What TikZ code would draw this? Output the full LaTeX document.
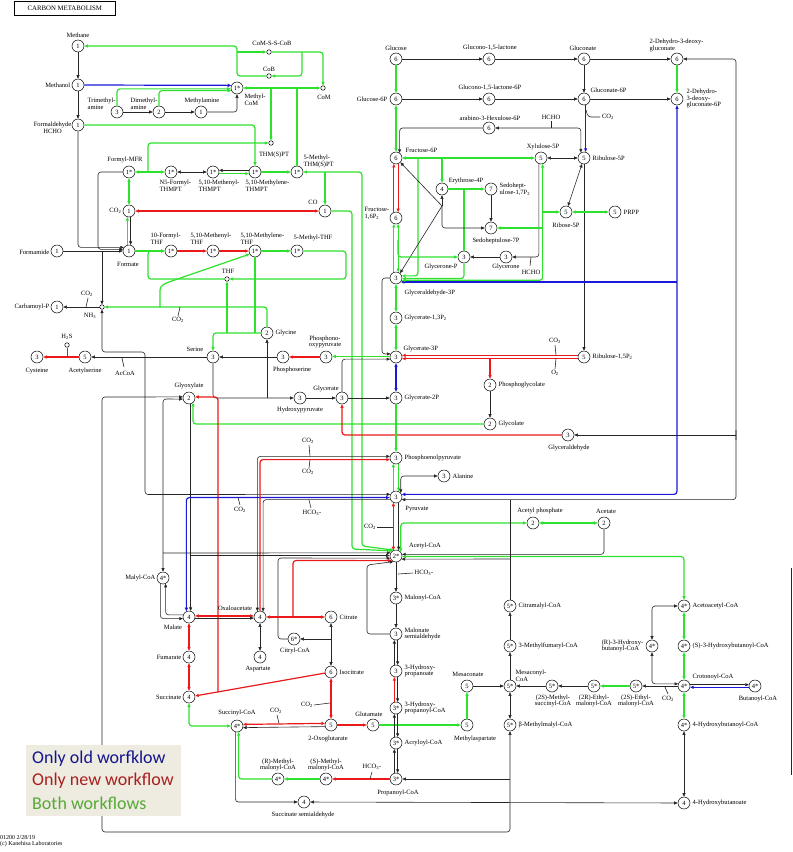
\documentclass[tikz,border=0pt]{standalone}
\usepackage{fontspec}
\setmainfont{Liberation Serif}
\newfontfamily\legfont{Carlito}
\usetikzlibrary{arrows.meta}
\newcommand{\mysub}[1]{\textsubscript{#1}}
\definecolor{kgreen}{RGB}{45,225,45}
\definecolor{kred}{RGB}{235,25,25}
\definecolor{kblue}{RGB}{25,25,215}
\definecolor{legbg}{RGB}{238,236,225}
\definecolor{legb}{RGB}{20,20,140}
\definecolor{legr}{RGB}{170,30,30}
\definecolor{legg}{RGB}{86,168,54}
\begin{document}
\begin{tikzpicture}[x=1pt,y=-1pt,
 >={Triangle[length=3.6pt,width=3pt]},
 cpd/.style={circle,draw,line width=0.5pt,fill=white,minimum size=12pt,inner sep=0pt,font=\fontsize{6.5}{7}\selectfont},
 sc/.style={circle,draw,line width=0.5pt,fill=white,minimum size=4.5pt,inner sep=0pt},
 lab/.style={font=\fontsize{6.5}{6.8}\selectfont,inner sep=0.5pt,align=center},
 kl/.style={draw=black!85,line width=0.6pt},
 gl/.style={draw=kgreen,line width=1.2pt},
 rl/.style={draw=kred,line width=1.2pt},
 bl/.style={draw=kblue,line width=1.2pt},
 rnd/.style={rounded corners=3pt},
 legtext/.style={anchor=west,inner sep=0pt,font=\legfont\fontsize{18}{20}\selectfont}]
\fill[white] (0,0) rectangle (793,852);
\useasboundingbox (0,0) rectangle (793,852);

% ---------------- compounds
\node[cpd] (Methane) at (78,46) {1};
\node[cpd] (Methanol) at (78,85) {1};
\node[cpd] (MeCoM) at (237,88) {1*};
\node[cpd] (TMA) at (117,112) {3};
\node[cpd] (DMA) at (159,112) {2};
\node[cpd] (MA) at (201,112) {1};
\node[cpd] (HCHO) at (78,125) {1};
\node[cpd] (FMFR) at (129,172) {1*};
\node[cpd] (N5F) at (171,172) {1*};
\node[cpd] (MTHMPT) at (213,172) {1*};
\node[cpd] (MeneTHMPT) at (255,172) {1*};
\node[cpd] (MeTHMSPT) at (297,172) {1*};
\node[cpd] (CO2n) at (129,211) {1};
\node[cpd] (CO) at (325,211) {1};
\node[cpd] (Formate) at (129,251) {1};
\node[cpd] (Formamide) at (57,251) {1};
\node[cpd] (FTHF) at (171,251) {1*};
\node[cpd] (MTHF) at (213,251) {1*};
\node[cpd] (MeneTHF) at (255,251) {1*};
\node[cpd] (MeTHF) at (297,251) {1*};
\node[cpd] (CarbP) at (57,307) {1};
\node[cpd] (Glycine) at (267,333) {2};
\node[cpd] (Serine) at (213,357) {3};
\node[cpd] (Acser) at (85,357) {5};
\node[cpd] (Cys) at (37,357) {3};
\node[cpd] (Phser) at (283,357) {3};
\node[cpd] (Phoxp) at (326,357) {3};
\node[cpd] (Glyoxylate) at (189,398) {2};
\node[cpd] (Hpyr) at (300,398) {3};
\node[cpd] (Glycerate) at (342,398) {3};
\node[cpd] (G2P) at (396,398) {3};
\node[cpd] (G3P) at (396,357) {3};
\node[cpd] (G13P) at (396,318) {3};
\node[cpd] (GAP) at (396,278) {3};
\node[cpd] (F16P) at (396,218) {6};
\node[cpd] (F6P) at (396,158) {6};
\node[cpd] (G6P) at (396,99) {6};
\node[cpd] (Glc) at (396,59) {6};
\node[cpd] (GL) at (489,59) {6};
\node[cpd] (GL6P) at (489,99) {6};
\node[cpd] (Ara) at (489,128) {6};
\node[cpd] (Gnt) at (584,59) {6};
\node[cpd] (Gnt6P) at (584,99) {6};
\node[cpd] (KDG) at (677,59) {6};
\node[cpd] (KDPG) at (677,99) {6};
\node[cpd] (X5P) at (541,158) {5};
\node[cpd] (Ru5P) at (584,158) {5};
\node[cpd] (R5P) at (566,212) {5};
\node[cpd] (PRPP) at (615,212) {5};
\node[cpd] (E4P) at (442,189) {4};
\node[cpd] (S17P) at (491,189) {7};
\node[cpd] (S7P) at (491,228) {7};
\node[cpd] (DHAP) at (464,257) {3};
\node[cpd] (Glycerone) at (506,257) {3};
\node[cpd] (Ru15P) at (584,357) {5};
\node[cpd] (PGly) at (490,385) {2};
\node[cpd] (Glycolate) at (490,424) {2};
\node[cpd] (Glyald) at (568,435) {3};
\node[cpd] (PEP) at (396,458) {3};
\node[cpd] (Ala) at (444,476) {3};
\node[cpd] (Pyr) at (396,497) {3};
\node[cpd] (AcCoA) at (396,556) {2*};
\node[cpd] (AcP) at (533,523) {2};
\node[cpd] (Acetate) at (604,523) {2};
\node[cpd] (MalCoA) at (396,598) {3*};
\node[cpd] (MSA) at (396,634) {3};
\node[cpd] (HP) at (396,671) {3};
\node[cpd] (HPCoA) at (396,708) {3*};
\node[cpd] (AcrCoA) at (396,743) {3*};
\node[cpd] (PropCoA) at (396,779) {3*};
\node[cpd] (SMM) at (326,779) {4*};
\node[cpd] (RMM) at (278,779) {4*};
\node[cpd] (SuccCoA) at (237,726) {4*};
\node[cpd] (Succ) at (189,697) {4};
\node[cpd] (Fum) at (189,657) {4};
\node[cpd] (Mal) at (189,617) {4};
\node[cpd] (MalylCoA) at (163,578) {4*};
\node[cpd] (OAA) at (260,617) {4};
\node[cpd] (Asp) at (260,657) {4};
\node[cpd] (Cit) at (331,617) {6};
\node[cpd] (CitCoA) at (294,639) {6*};
\node[cpd] (Icit) at (331,672) {6};
\node[cpd] (OG) at (331,725) {5};
\node[cpd] (Glu) at (373,725) {5};
\node[cpd] (MeAsp) at (467,725) {5};
\node[cpd] (Mesac) at (467,686) {5};
\node[cpd] (MesCoA) at (510,686) {5*};
\node[cpd] (MFCoA) at (510,646) {5*};
\node[cpd] (CitmCoA) at (510,606) {5*};
\node[cpd] (bMMCoA) at (510,725) {5*};
\node[cpd] (SSA) at (304,802) {4};
\node[cpd] (MSCoA) at (552,686) {5*};
\node[cpd] (REMCoA) at (594,686) {5*};
\node[cpd] (SEMCoA) at (636,686) {5*};
\node[cpd] (Crot) at (684,686) {4*};
\node[cpd] (But) at (755,686) {4*};
\node[cpd] (R3HB) at (652,646) {4*};
\node[cpd] (S3HB) at (684,646) {4*};
\node[cpd] (AcacCoA) at (684,606) {4*};
\node[cpd] (HBCoA) at (684,725) {4*};
\node[cpd] (HB) at (684,803) {4};
% small compounds
\node[sc] (CoMSS) at (269,52) {};
\node[sc] (CoB) at (269,76) {};
\node[sc] (CoM) at (323,88) {};
\node[sc] (THMSPT) at (271,143) {};
\node[sc] (THF) at (227,279) {};
\node[sc] (NH3) at (102,307) {};
\node[sc] (H2S) at (67,345) {};
\coordinate (J) at (442,206);

% ---------------- methane / methanogenesis
\draw[kl,->] (Methane) -- (Methanol);
\draw[kl,->] (Methanol) -- (HCHO);
\draw[bl,->] (Methanol.east) -- (MeCoM.155);
\draw[kl,->] (TMA) -- (DMA);
\draw[kl,->] (DMA) -- (MA);
\draw[kl,->,rnd] (MA) -| (MeCoM);
\draw[gl,->,rnd] (TMA.north) |- (MeCoM.188);
\draw[gl,->,rnd] (DMA.north) |- (MeCoM.205);
\draw[gl,->,rnd] (CoB.west) -- (237,76) |- (Methane);
\draw[gl,->] (237,52) -- (CoMSS);
\draw[gl,->,rnd] (CoMSS) -| (CoM);
\draw[gl,->,rnd] (302,52) |- (CoB);
\draw[gl,<->] (MeCoM) -- (CoM);
\draw[gl,->] (271,88) -- (THMSPT);
\draw[gl] (297,88) -- (MeTHMSPT);
\draw[gl,->,rnd] (HCHO) -| (MeneTHMPT);
\draw[gl,<->] (FMFR) -- (N5F);
\draw[kl,<->] (N5F) -- (MTHMPT);
\draw[kl,->] (MeneTHMPT.165) -- (MTHMPT.15);
\draw[gl,->] (MTHMPT.-15) -- (MeneTHMPT.195);
\draw[gl,->] (MeneTHMPT) -- (MeTHMSPT);
\draw[gl,->,rnd] (148,172) |- (THMSPT);
\draw[gl,<->] (FMFR) -- (CO2n);
\draw[kl,->,rnd] (FMFR.west) -- (98,172) |- (Formate.165);
\draw[kl,->,rnd] (HCHO.south) |- (Formate.145);
\draw[kl,->] (Formamide) -- (Formate);
\draw[kl,->] (102,251) -- (NH3);
\draw[rl,<->] (CO) -- (CO2n);
\draw[gl,->] (Formate.105) -- (CO2n.255);
\draw[kl,->] (CO2n.285) -- (Formate.75);
\draw[gl,->] (Formate) -- (FTHF);
\draw[rl,->] (FTHF) -- (MTHF);
\draw[rl,->] (MTHF) -- (MeneTHF);
\draw[gl,->] (MeneTHF) -- (MeTHF);
\draw[gl,->,rnd] (THF.west) -- (148,279) -- (148,251) -- (FTHF.west);
\draw[gl,->,rnd] (Glycine.north) |- (NH3);
\draw[gl,->,rnd] (160,307) -- (160,287) -- (166,283) -- (MeneTHF.210);
\draw[gl] (MeneTHF.south) -- (255,333);
\draw[gl,->,rnd] (Glycine) -| (Serine);
\draw[gl,->] (227,333) -- (THF);
\draw[gl,->,rnd] (MeTHF) -- (346,251) -- (346,279) -- (THF);
\draw[gl,->,rnd] (CO) -- (352,211) -- (352,549) -- (AcCoA.125);
\draw[gl,->,rnd] (362,300) -- (362,172) -- (MeTHMSPT);
\draw[gl,->,rnd] (362,300) -- (362,546) -- (AcCoA.110);
\draw[gl,->] (325,172) -- (CO);

% ---------------- serine / glycine
\draw[kl,->,rnd] (Serine) |- (Hpyr);
\draw[kl,->] (267,398) -- (Glycine);
\draw[kl,->] (Phser) -- (Serine);
\draw[rl,->] (Phoxp) -- (Phser);
\draw[gl,->] (G3P.175) -- (Phoxp.5);
\draw[kl,->] (Serine) -- (Acser);
\draw[rl,->] (Acser) -- (Cys);
\draw[rl,line width=0.8pt] (H2S) -- (67,357);
\draw[kl,->] (NH3) -- (CarbP);
\draw[kl,<->,rnd] (NH3) -- (102,352) -- (145,352) -- (145,494.5) -- (Pyr.155);
\draw[kl] (88,298) -- (86,307);
\draw[kl] (178,316) -- (180,307);
\draw[kl] (122,358) -- (124,367);

% ---------------- glyoxylate
\draw[gl,->,rnd] (Glycolate) -| (Glyoxylate.-50);
\draw[kl,->] (Glyoxylate.-75) -- (Mal.75);
\draw[kl,<->,rnd] (MalylCoA) -- (163,399) -- (Glyoxylate.190);
\draw[kl,<->,rnd] (Glyoxylate.170) -- (102,397) -- (102,832) -- (510,832) -- (bMMCoA);
\draw[kl,->] (510,779) -- (PropCoA);
\draw[rl,->] (Icit) -- (Succ);
\draw[rl,->,rnd] (218,692) -- (218,397) -- (Glyoxylate.10);

% ---------------- photorespiration
\draw[kl,->] (PGly) -- (Glycolate);
\draw[rl,->] (490,358.6) -- (PGly);
\draw[rl,->] (Ru15P.165) -- (G3P.15);
\draw[rl,->] (Ru15P.195) -- (G3P.-15);
\draw[kl] (555,345) -- (556,355.4);
\draw[kl] (555,369) -- (556,358.6);
\draw[kl,->] (Ru5P) -- (Ru15P);
\draw[rl,->,rnd] (Glyald) -| (Glycerate);
\draw[kl,->,rnd] (736,440) |- (KDG);
\draw[kl,->] (736,435) -- (Glyald);
\draw[kl,->,rnd] (736,430) |- (Pyr.-25);
\draw[bl,<->,rnd] (KDPG) |- (Pyr.25);
\draw[bl,<-] (GAP.-40) -- ++(276,0);

% ---------------- pentose phosphate
\draw[kl,->] (Glc) -- (GL);
\draw[kl,->] (GL) -- (Gnt);
\draw[kl,->] (Gnt) -- (KDG);
\draw[gl,->] (Glc) -- (G6P);
\draw[kl,->] (G6P) -- (GL6P);
\draw[kl,->] (GL6P) -- (Gnt6P);
\draw[kl,->] (Gnt6P) -- (KDPG);
\draw[kl,->] (Gnt) -- (Gnt6P);
\draw[gl,->] (KDG) -- (KDPG);
\draw[bl,->] (Gnt6P.-75) -- (Ru5P.75);
\draw[kl,rnd] (586,110) -- (588,117) -- (600,117);
\draw[kl,<->,rnd] (Ara) -| (Ru5P.120);
\draw[kl] (551,121) -- (551,128);
\draw[kl,->,rnd] (Ara) -| (F6P.55);
\draw[gl,<->] (G6P) -- (F6P);
\draw[rl,->] (F6P.-70) -- (F16P.70);
\draw[rl,->] (F16P.110) -- (F6P.-110);
\draw[gl,<->] (F6P) -- (X5P);
\draw[gl,->] (442,158) -- (E4P);
\draw[gl,->,rnd] (418,158) |- (GAP.20);
\draw[kl,<->] (X5P) -- (Ru5P);
\draw[kl,<->] (Ru5P) -- (R5P);
\draw[gl,<->] (R5P) -- (PRPP);
\draw[gl,->] (E4P) -- (S17P);
\draw[kl,->] (S17P) -- (S7P);
\draw[gl] (DHAP.north) -- (464,189);
\draw[kl,->] (J) -- (E4P);
\draw[kl,->] (J) -- (F6P.-45);
\draw[kl,->] (J) -- (GAP.50);
\draw[kl,->,rnd] (J) |- (S7P);
\draw[kl,->,rnd] (X5P.250) |- (Glycerone);
\draw[kl] (530,266) -- (531,257);
\draw[kl,->] (Glycerone) -- (DHAP);
\draw[gl,<->] (F16P.-70) -- (GAP.70);
\draw[gl,->] (GAP.110) -- (F16P.-110);
\draw[gl,->,rnd] (398.05,240) |- (DHAP);
\draw[gl,->,rnd] (DHAP.south) |- (GAP.-5);
\draw[gl,<->,rnd] (X5P.-75) |- (GAP.-22);
\draw[gl,->] (542.55,212) -- (R5P);
\draw[gl,->] (542.55,228) -- (S7P);

% ---------------- glycolysis
\draw[gl,<->] (GAP) -- (G13P);
\draw[gl,<->] (G13P) -- (G3P);
\draw[kl,->,rnd] (GAP.west) -- (382,278) -- (382,354) -- (G3P.150);
\draw[bl,<->] (G3P) -- (G2P);
\draw[kl,->] (Hpyr) -- (Glycerate);
\draw[kl,->] (Glycerate) -- (G2P);
\draw[kl,->,rnd] (Glycerate.north) |- (G3P.200);
\draw[gl,->] (G2P) -- (PEP);
\draw[gl,->] (Pyr.115) -- (PEP.-115);
\draw[gl,->] (PEP.-65) -- (Pyr.65);
\draw[kl,<->,rnd] (Pyr.40) |- (Ala);
\draw[rl,<->] (Pyr.-115) -- (AcCoA.115);
\draw[kl,->] (Pyr.-65) -- (AcCoA.65);
\draw[kl] (377,527) -- (393,527);
\draw[gl,<->,rnd] (AcCoA.40) |- (AcP);
\draw[gl,<->] (AcP) -- (Acetate);
\draw[kl,->,rnd] (Acetate) |- (AcCoA.15);
\draw[gl,<->,rnd] (AcCoA.-5) -| (AcacCoA);
\draw[kl] (CitmCoA.north) -- (510,499.5);
\draw[kl,->] (510,559) -- (AcCoA.-30);
\draw[bl,<->,rnd] (Mal.115) |- (Pyr.185);
\draw[kl] (238,497.5) -- (240,505);
\draw[kl,<->,rnd] (PEP.165) -| (OAA.115);
\draw[rl,->,rnd] (OAA.90) |- (PEP.195);
\draw[kl,->,rnd] (Pyr.205) -| (OAA.60);
\draw[kl] (309,445) -- (310,456.4);
\draw[kl] (309,468) -- (310,459.6);
\draw[kl] (309,500) -- (311,508);

% ---------------- TCA / acetyl-CoA
\draw[kl,->] (163,553) -- (AcCoA.150);
\draw[kl,->] (190.6,555.5) -- (AcCoA.175);
\draw[kl,->,rnd] (CitCoA.west) -- (278,639) -- (278,558) -- (AcCoA.200);
\draw[rl,<->] (OAA) -- (Cit);
\draw[rl,->,rnd] (293,617) -- (293,560.5) -- (AcCoA.228);
\draw[kl,->,rnd] (MSA.west) -- (367,634) -- (367,565) -- (AcCoA.245);
\draw[kl,->] (331,639) -- (CitCoA);
\draw[kl,<->] (Cit) -- (Icit);
\draw[rl,<->] (Icit) -- (OG);
\draw[kl] (314,705) -- (330,703);
\draw[rl,->] (OG) -- (Glu);
\draw[gl,->] (Glu) -- (MeAsp);
\draw[gl,->] (MeAsp) -- (Mesac);
\draw[kl,->] (Mesac) -- (MesCoA);
\draw[kl,->] (MesCoA) -- (MFCoA);
\draw[kl,->] (MFCoA) -- (CitmCoA);
\draw[kl,<->] (MesCoA) -- (bMMCoA);
\draw[kl,->] (MSCoA) -- (MesCoA);
\draw[kl,->] (REMCoA) -- (MSCoA);
\draw[gl,->] (SEMCoA) -- (REMCoA);
\draw[kl,->] (Crot) -- (SEMCoA);
\draw[kl] (665,687) -- (668,694);
\draw[kl,<->,rnd] (R3HB) |- (Crot.160);
\draw[kl,<->,rnd] (AcacCoA) -| (R3HB);
\draw[gl,<->] (AcacCoA) -- (S3HB);
\draw[gl,<->] (S3HB) -- (Crot);
\draw[gl,<->] (Crot) -- (HBCoA);
\draw[kl,<->] (HBCoA) -- (HB);
\draw[kl,->] (Crot.12) -- (But.168);
\draw[bl,->] (But.192) -- (Crot.-12);
\draw[kl,<->] (SSA) -- (HB);
\draw[kl,->,rnd] (SuccCoA.-105) |- (SSA);
\draw[gl,->,rnd] (RMM) -| (SuccCoA.-75);
\draw[gl,->] (SMM) -- (RMM);
\draw[rl,->] (PropCoA) -- (SMM);
\draw[kl] (372,772) -- (370,779);
\draw[rl,<->] (OG.165) -- (SuccCoA.15);
\draw[kl,->] (OG.195) -- (SuccCoA.-15);
\draw[kl] (277,715) -- (279,723.4);
\draw[gl,<->,rnd] (Succ) |- (SuccCoA);
\draw[rl,<->] (Mal) -- (Fum);
\draw[rl,<->] (Fum) -- (Succ);
\draw[rl,<->] (Mal.10) -- (OAA.170);
\draw[kl,->] (Mal.-10) -- (OAA.190);
\draw[kl,<->] (OAA) -- (Asp);
\draw[kl,->,rnd] (MalylCoA.-115) |- (Mal.195);
\draw[kl,->,rnd] (Mal.160) -| (MalylCoA.-65);
\draw[kl,->] (AcCoA) -- (MalCoA);
\draw[kl] (398,574) -- (413,573);
\draw[kl,->] (MalCoA) -- (MSA);
\draw[kl,->] (MSA.-75) -- (HP.75);
\draw[kl,->] (HP.105) -- (MSA.-105);
\draw[kl,->] (HP.-75) -- (HPCoA.75);
\draw[rl,->] (HPCoA.105) -- (HP.-105);
\draw[kl,->] (HPCoA.-75) -- (AcrCoA.75);
\draw[kl,->] (AcrCoA.105) -- (HPCoA.-105);
\draw[kl,->] (AcrCoA.-75) -- (PropCoA.75);
\draw[kl,->] (PropCoA.105) -- (AcrCoA.-105);
\draw[kl] (791,568) -- (791,775);

% ---------------- labels
\node[draw,line width=0.6pt,anchor=north west,minimum width=101pt,minimum height=14pt,inner sep=0pt,font=\fontsize{6.8}{7}\selectfont] (title) at (14,1) {CARBON METABOLISM};
\node[lab] (lMethane) at (78,35) {Methane};
\node[lab,anchor=east] (lMethanol) at (71,85) {Methanol};
\node[lab,align=left,anchor=north west] (lMeCoM) at (244,93) {Methyl-\\CoM};
\node[lab,align=left,anchor=north west] (lTMA) at (87,97) {Trimethyl-\\amine};
\node[lab,align=left,anchor=north west] (lDMA) at (130,97) {Dimethyl-\\amine};
\node[lab] (lMA) at (202,101) {Methylamine};
\node[lab,anchor=east] (lHCHO) at (72,128) {Formaldehyde\\HCHO};
\node[lab] (lFMFR) at (125,160) {Formyl-MFR};
\node[lab,align=left,anchor=north west] (lN5F) at (159,179) {N5-Formyl-\\THMPT};
\node[lab,align=left,anchor=north west] (lMTHMPT) at (198,179) {5,10-Methenyl-\\THMPT};
\node[lab,align=left,anchor=north west] (lMeneTHMPT) at (245,179) {5,10-Methylene-\\THMPT};
\node[lab,align=left,anchor=north west] (lMeTHMSPT) at (303,154) {5-Methyl-\\THM(S)PT};
\node[lab] (lTHMSPT) at (274,155) {THM(S)PT};
\node[lab] (lCoMSS) at (272,43) {CoM-S-S-CoB};
\node[lab] (lCoB) at (269,69) {CoB};
\node[lab] (lCoM) at (324,97) {CoM};
\node[lab,anchor=east] (lCO2n) at (122,211) {CO\mysub{2}};
\node[lab] (lCO) at (313,202) {CO};
\node[lab] (lFormate) at (128,264) {Formate};
\node[lab,anchor=east] (lFormamide) at (50,252) {Formamide};
\node[lab,align=left,anchor=north west] (lFTHF) at (150,232) {10-Formyl-\\THF};
\node[lab,align=left,anchor=north west] (lMTHF) at (190,232) {5,10-Methenyl-\\THF};
\node[lab,align=left,anchor=north west] (lMeneTHF) at (240,232) {5,10-Methylene-\\THF};
\node[lab] (lMeTHF) at (313,238) {5-Methyl-THF};
\node[lab] (lTHF) at (228,271) {THF};
\node[lab] (lNH3) at (90,316) {NH\mysub{3}};
\node[lab] (lCO2c) at (87,294) {CO\mysub{2}};
\node[lab,anchor=east] (lCarbP) at (50,307) {Carbamoyl-P};
\node[lab] (lCO2g) at (178,320) {CO\mysub{2}};
\node[lab,anchor=west] (lGlycine) at (275,333) {Glycine};
\node[lab] (lSerine) at (195,349) {Serine};
\node[lab] (lAcser) at (85,371) {Acetylserine};
\node[lab] (lCys) at (37,371) {Cysteine};
\node[lab] (lH2S) at (67,337) {H\mysub{2}S};
\node[lab] (lAcCoAt) at (125,373) {AcCoA};
\node[lab] (lGlyox) at (189,386) {Glyoxylate};
\node[lab] (lPhser) at (292,370) {Phosphoserine};
\node[lab] (lPhoxp) at (325,342) {Phosphono-\\oxypyruvate};
\node[lab,anchor=west] (lG3P) at (403,349) {Glycerate-3P};
\node[lab,anchor=west] (lG13P) at (404,318) {Glycerate-1,3P\mysub{2}};
\node[lab,anchor=west] (lGAP) at (404,293) {Glyceraldehyde-3P};
\node[lab,anchor=west] (lG2P) at (404,398) {Glycerate-2P};
\node[lab] (lGlycerate) at (326,389) {Glycerate};
\node[lab] (lHpyr) at (300,410) {Hydroxypyruvate};
\node[lab,align=left,anchor=north west] (lF16P) at (364,207) {Fructose-\\1,6P\mysub{2}};
\node[lab,anchor=west] (lF6P) at (405,150) {Fructose-6P};
\node[lab,anchor=east] (lG6P) at (388,99) {Glucose-6P};
\node[lab] (lGlc) at (396,48) {Glucose};
\node[lab] (lGL) at (490,48) {Glucono-1,5-lactone};
\node[lab] (lGL6P) at (490,88) {Glucono-1,5-lactone-6P};
\node[lab] (lAra) at (490,118) {arabino-3-Hexulose-6P};
\node[lab] (lGnt) at (583,48) {Gluconate};
\node[lab,anchor=west] (lGnt6P) at (590,90) {Gluconate-6P};
\node[lab,align=left,anchor=north west] (lKDG) at (649,38) {2-Dehydro-3-deoxy-\\gluconate};
\node[lab,align=left,anchor=north west] (lKDPG) at (686,88) {2-Dehydro-\\3-deoxy-\\gluconate-6P};
\node[lab] (lCO2p) at (608,117) {CO\mysub{2}};
\node[lab] (lHCHOa) at (551,117) {HCHO};
\node[lab] (lX5P) at (543,147) {Xylulose-5P};
\node[lab,anchor=west] (lRu5P) at (592,158) {Ribulose-5P};
\node[lab] (lR5P) at (566,225) {Ribose-5P};
\node[lab,anchor=west] (lPRPP) at (623,212) {PRPP};
\node[lab] (lE4P) at (466,181) {Erythrose-4P};
\node[lab,align=left,anchor=north west] (lS17P) at (499,182) {Sedohept-\\ulose-1,7P\mysub{2}};
\node[lab] (lS7P) at (496,241) {Sedoheptulose-7P};
\node[lab] (lDHAP) at (441,267) {Glycerone-P};
\node[lab] (lGlycerone) at (506,267) {Glycerone};
\node[lab] (lHCHOb) at (531,272) {HCHO};
\node[lab,anchor=west] (lRu15P) at (592,357) {Ribulose-1,5P\mysub{2}};
\node[lab] (lCO2r) at (555,341) {CO\mysub{2}};
\node[lab] (lO2) at (555,373) {O\mysub{2}};
\node[lab,anchor=west] (lPGly) at (498,385) {Phosphoglycolate};
\node[lab,anchor=west] (lGlycolate) at (498,424) {Glycolate};
\node[lab] (lGlyald) at (569,448) {Glyceraldehyde};
\node[lab,anchor=west] (lPEP) at (404,458) {Phosphoenolpyruvate};
\node[lab,anchor=west] (lAla) at (452,476) {Alanine};
\node[lab] (lPyr) at (417,509) {Pyruvate};
\node[lab] (lAcCoA) at (425,546) {Acetyl-CoA};
\node[lab] (lAcP) at (540,511) {Acetyl phosphate};
\node[lab] (lAcetate) at (606,511) {Acetate};
\node[lab] (lCO2e1) at (308,441) {CO\mysub{2}};
\node[lab] (lCO2e2) at (308,472) {CO\mysub{2}};
\node[lab] (lHCO3p) at (312,513) {HCO\mysub{3}-};
\node[lab] (lCO2pd) at (370,527) {CO\mysub{2}};
\node[lab] (lHCO3a) at (424,573) {HCO\mysub{3}-};
\node[lab,anchor=west] (lMalCoA) at (404,598) {Malonyl-CoA};
\node[lab] (lCO2m) at (240,510) {CO\mysub{2}};
\node[lab,anchor=east] (lMalylCoA) at (156,578) {Malyl-CoA};
\node[lab] (lMal) at (173,627) {Malate};
\node[lab] (lOAA) at (235,608) {Oxaloacetate};
\node[lab] (lAsp) at (258,669) {Aspartate};
\node[lab,anchor=east] (lFum) at (182,657) {Fumarate};
\node[lab,anchor=east] (lSucc) at (182,697) {Succinate};
\node[lab] (lSuccCoA) at (237,713) {Succinyl-CoA};
\node[lab,anchor=west] (lCit) at (339,617) {Citrate};
\node[lab] (lCitCoA) at (295,651) {Citryl-CoA};
\node[lab,anchor=west] (lIcit) at (339,672) {Isocitrate};
\node[lab,align=left,anchor=west] (lMSA) at (404,634) {Malonate\\semialdehyde};
\node[lab,align=left,anchor=west] (lHP) at (404,671) {3-Hydroxy-\\propanoate};
\node[lab,align=left,anchor=west] (lHPCoA) at (404,708) {3-Hydroxy-\\propanoyl-CoA};
\node[lab,anchor=west] (lAcrCoA) at (404,743) {Acryloyl-CoA};
\node[lab] (lPropCoA) at (398,793) {Propanoyl-CoA};
\node[lab] (lSMM) at (326,765) {(S)-Methyl-\\malonyl-CoA};
\node[lab] (lRMM) at (278,765) {(R)-Methyl-\\malonyl-CoA};
\node[lab] (lHCO3b) at (372,767) {HCO\mysub{3}-};
\node[lab] (lOG) at (328,739) {2-Oxoglutarate};
\node[lab] (lCO2i) at (307,705) {CO\mysub{2}};
\node[lab] (lCO2s) at (276,711) {CO\mysub{2}};
\node[lab] (lGlu) at (369,714) {Glutamate};
\node[lab] (lMeAsp) at (475,739) {Methylaspartate};
\node[lab] (lMesac) at (468,674) {Mesaconate};
\node[lab,align=left,anchor=south west] (lMesCoA) at (515,682) {Mesaconyl-\\CoA};
\node[lab,anchor=west] (lMFCoA) at (518,646) {3-Methylfumaryl-CoA};
\node[lab,anchor=west] (lCitmCoA) at (518,606) {Citramalyl-CoA};
\node[lab,anchor=west] (lbMMCoA) at (518,725) {β-Methylmalyl-CoA};
\node[lab] (lSSA) at (303,815) {Succinate semialdehyde};
\node[lab] (lMSCoA) at (553,701) {(2S)-Methyl-\\succinyl-CoA};
\node[lab] (lREMCoA) at (594,701) {(2R)-Ethyl-\\malonyl-CoA};
\node[lab] (lSEMCoA) at (636,701) {(2S)-Ethyl-\\malonyl-CoA};
\node[lab] (lCO2cr) at (668,699) {CO\mysub{2}};
\node[lab] (lCrot) at (713,677) {Crotonoyl-CoA};
\node[lab] (lBut) at (758,699) {Butanoyl-CoA};
\node[lab,align=left,anchor=east] (lR3HB) at (644,646) {(R)-3-Hydroxy-\\butanoyl-CoA};
\node[lab,anchor=west] (lS3HB) at (692,646) {(S)-3-Hydroxybutanoyl-CoA};
\node[lab,anchor=west] (lAcacCoA) at (692,606) {Acetoacetyl-CoA};
\node[lab,anchor=west] (lHBCoA) at (692,725) {4-Hydroxybutanoyl-CoA};
\node[lab,anchor=west] (lHB) at (692,803) {4-Hydroxybutanoate};
\node[anchor=north west,inner sep=0pt,align=left,font=\fontsize{6}{6.4}\selectfont] (foot) at (0,835) {01200 2/28/19\\(c) Kanehisa Laboratories};

% ---------------- legend
\node[fill=legbg,anchor=north west,minimum width=155pt,minimum height=71pt,inner sep=0pt] (legend) at (26,745) {};
\node[legtext,text=legb] (leg1) at (32,759) {Only old worfklow};
\node[legtext,text=legr] (leg2) at (32,781) {Only new workflow};
\node[legtext,text=legg] (leg3) at (32,803) {Both workflows};
\end{tikzpicture}
\end{document}
